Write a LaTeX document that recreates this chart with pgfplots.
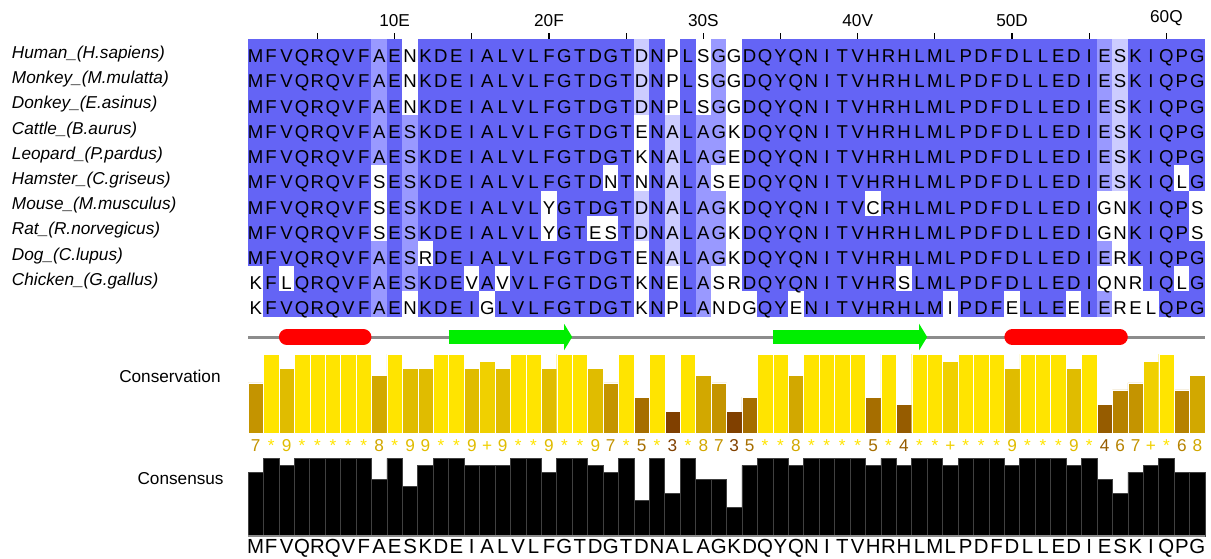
\documentclass[border=0pt]{standalone}
\usepackage{fontspec}
\setmainfont{Liberation Sans}
\usepackage{pgfplots}
\usepackage{pgfplotstable}
\pgfplotsset{compat=1.18}
\usetikzlibrary{arrows.meta}

\definecolor{pid1}{RGB}{204,204,255}
\definecolor{pid2}{RGB}{153,153,255}
\definecolor{pid3}{RGB}{100,100,245}
\definecolor{cons3}{RGB}{128,64,0}
\definecolor{cons4}{RGB}{150,92,0}
\definecolor{cons5}{RGB}{166,110,0}
\definecolor{cons6}{RGB}{182,130,0}
\definecolor{cons7}{RGB}{196,148,0}
\definecolor{cons8}{RGB}{210,168,0}
\definecolor{cons9}{RGB}{224,188,0}
\definecolor{cons10}{RGB}{240,208,0}
\definecolor{cons11}{RGB}{255,228,0}
\definecolor{helix}{RGB}{255,0,0}
\definecolor{strand}{RGB}{0,238,0}

\newcommand\seqfont{\fontsize{9.3}{10}\selectfont}
\newcommand\confont{\fontsize{10.2}{11}\selectfont}
\newcommand\namefont{\fontsize{8.6}{10}\selectfont\itshape}
\newcommand\annfont{\fontsize{8.6}{10}\selectfont}

% one row per alignment column: residues of the 11 sequences, consensus residue,
% percent-identity level of each cell, conservation score and label, consensus %
\pgfplotstableread{
p  s1 s2 s3 s4 s5 s6 s7 s8 s9 s10 s11 con l1 l2 l3 l4 l5 l6 l7 l8 l9 l10 l11 cv clab cp
1  M M M M M M M M M K K M 3 3 3 3 3 3 3 3 3 0 0 7 7 81.8
2  F F F F F F F F F F F F 3 3 3 3 3 3 3 3 3 3 3 11 * 100
3  V V V V V V V V V L V V 3 3 3 3 3 3 3 3 3 0 3 9 9 90.9
4  Q Q Q Q Q Q Q Q Q Q Q Q 3 3 3 3 3 3 3 3 3 3 3 11 * 100
5  R R R R R R R R R R R R 3 3 3 3 3 3 3 3 3 3 3 11 * 100
6  Q Q Q Q Q Q Q Q Q Q Q Q 3 3 3 3 3 3 3 3 3 3 3 11 * 100
7  V V V V V V V V V V V V 3 3 3 3 3 3 3 3 3 3 3 11 * 100
8  F F F F F F F F F F F F 3 3 3 3 3 3 3 3 3 3 3 11 * 100
9  A A A A A S S S A A A A 2 2 2 2 2 0 0 0 2 2 2 8 8 72.7
10 E E E E E E E E E E E E 3 3 3 3 3 3 3 3 3 3 3 11 * 100
11 N N N S S S S S S S N S 0 0 0 2 2 2 2 2 2 2 0 9 9 63.6
12 K K K K K K K K R K K K 3 3 3 3 3 3 3 3 0 3 3 9 9 90.9
13 D D D D D D D D D D D D 3 3 3 3 3 3 3 3 3 3 3 11 * 100
14 E E E E E E E E E E E E 3 3 3 3 3 3 3 3 3 3 3 11 * 100
15 I I I I I I I I I V I I 3 3 3 3 3 3 3 3 3 0 3 9 9 90.9
16 A A A A A A A A A A G A 3 3 3 3 3 3 3 3 3 3 0 10 + 90.9
17 L L L L L L L L L V L L 3 3 3 3 3 3 3 3 3 0 3 9 9 90.9
18 V V V V V V V V V V V V 3 3 3 3 3 3 3 3 3 3 3 11 * 100
19 L L L L L L L L L L L L 3 3 3 3 3 3 3 3 3 3 3 11 * 100
20 F F F F F F Y Y F F F F 3 3 3 3 3 3 0 0 3 3 3 9 9 81.8
21 G G G G G G G G G G G G 3 3 3 3 3 3 3 3 3 3 3 11 * 100
22 T T T T T T T T T T T T 3 3 3 3 3 3 3 3 3 3 3 11 * 100
23 D D D D D D D E D D D D 3 3 3 3 3 3 3 0 3 3 3 9 9 90.9
24 G G G G G N G S G G G G 3 3 3 3 3 0 3 0 3 3 3 7 7 81.8
25 T T T T T T T T T T T T 3 3 3 3 3 3 3 3 3 3 3 11 * 100
26 D D D E K N D D E K K D 1 1 1 0 0 0 1 1 0 0 0 5 5 45.5
27 N N N N N N N N N N N N 3 3 3 3 3 3 3 3 3 3 3 11 * 100
28 P P P A A A A A A E P A 0 0 0 1 1 1 1 1 1 0 0 3 3 54.5
29 L L L L L L L L L L L L 3 3 3 3 3 3 3 3 3 3 3 11 * 100
30 S S S A A A A A A A A A 0 0 0 2 2 2 2 2 2 2 2 8 8 72.7
31 G G G G G S G G G S N G 2 2 2 2 2 0 2 2 2 0 0 7 7 72.7
32 G G G K E E K K K R D K 0 0 0 0 0 0 0 0 0 0 0 3 3 36.4
33 D D D D D D D D D D G D 3 3 3 3 3 3 3 3 3 3 0 5 5 90.9
34 Q Q Q Q Q Q Q Q Q Q Q Q 3 3 3 3 3 3 3 3 3 3 3 11 * 100
35 Y Y Y Y Y Y Y Y Y Y Y Y 3 3 3 3 3 3 3 3 3 3 3 11 * 100
36 Q Q Q Q Q Q Q Q Q Q E Q 3 3 3 3 3 3 3 3 3 3 0 8 8 90.9
37 N N N N N N N N N N N N 3 3 3 3 3 3 3 3 3 3 3 11 * 100
38 I I I I I I I I I I I I 3 3 3 3 3 3 3 3 3 3 3 11 * 100
39 T T T T T T T T T T T T 3 3 3 3 3 3 3 3 3 3 3 11 * 100
40 V V V V V V V V V V V V 3 3 3 3 3 3 3 3 3 3 3 11 * 100
41 H H H H H H C H H H H H 3 3 3 3 3 3 0 3 3 3 3 5 5 90.9
42 R R R R R R R R R R R R 3 3 3 3 3 3 3 3 3 3 3 11 * 100
43 H H H H H H H H H S H H 3 3 3 3 3 3 3 3 3 0 3 4 4 90.9
44 L L L L L L L L L L L L 3 3 3 3 3 3 3 3 3 3 3 11 * 100
45 M M M M M M M M M M M M 3 3 3 3 3 3 3 3 3 3 3 11 * 100
46 L L L L L L L L L L I L 3 3 3 3 3 3 3 3 3 3 0 10 + 90.9
47 P P P P P P P P P P P P 3 3 3 3 3 3 3 3 3 3 3 11 * 100
48 D D D D D D D D D D D D 3 3 3 3 3 3 3 3 3 3 3 11 * 100
49 F F F F F F F F F F F F 3 3 3 3 3 3 3 3 3 3 3 11 * 100
50 D D D D D D D D D D E D 3 3 3 3 3 3 3 3 3 3 0 9 9 90.9
51 L L L L L L L L L L L L 3 3 3 3 3 3 3 3 3 3 3 11 * 100
52 L L L L L L L L L L L L 3 3 3 3 3 3 3 3 3 3 3 11 * 100
53 E E E E E E E E E E E E 3 3 3 3 3 3 3 3 3 3 3 11 * 100
54 D D D D D D D D D D E D 3 3 3 3 3 3 3 3 3 3 0 9 9 90.9
55 I I I I I I I I I I I I 3 3 3 3 3 3 3 3 3 3 3 11 * 100
56 E E E E E E G G E Q E E 2 2 2 2 2 2 0 0 2 0 2 4 4 72.7
57 S S S S S S N N R N R S 1 1 1 1 1 1 0 0 0 0 0 6 6 54.5
58 K K K K K K K K K R E K 3 3 3 3 3 3 3 3 3 0 0 7 7 81.8
59 I I I I I I I I I I L I 3 3 3 3 3 3 3 3 3 3 0 10 + 90.9
60 Q Q Q Q Q Q Q Q Q Q Q Q 3 3 3 3 3 3 3 3 3 3 3 11 * 100
61 P P P P P L P P P L P P 3 3 3 3 3 0 3 3 3 0 3 6 6 81.8
62 G G G G G G S S G G G G 3 3 3 3 3 3 0 0 3 3 3 8 8 81.8
}\aln

\pgfdeclareplotmark{cell}{%
  \pgfpathrectangle{\pgfpoint{-3.91pt}{-6.36pt}}{\pgfpoint{7.82pt}{12.72pt}}%
  \pgfusepathqfill}

\begin{document}
\begin{tikzpicture}
\path[use as bounding box] (0,0) rectangle (605.5pt,-279pt);

% alignment (the axis top holds the ruler ticks)
\begin{axis}[
  at={(124pt,-16.62pt)}, anchor=north west,
  scale only axis, width=478.5pt, height=141.73pt,
  xmin=0.5, xmax=62.5, ymin=0.5, ymax=11.74,
  clip=false,
  axis line style={draw opacity=0},
  xtick pos=upper, xticklabel pos=upper,
  ytick pos=left,
  tick align=outside, major tick length=3pt,
  xtick={5,10,...,60},
  xticklabels={,10E,,20F,,30S,,40V,,50D,,60Q},
  xticklabel style={font=\annfont, yshift=-3pt},
  xtick style={draw=none},
  ytick={2,...,11},
  yticklabels={Chicken\_(G.gallus),Dog\_(C.lupus),Rat\_(R.norvegicus),Mouse\_(M.musculus),Hamster\_(C.griseus),Leopard\_(P.pardus),Cattle\_(B.aurus),Donkey\_(E.asinus),Monkey\_(M.mulatta),Human\_(H.sapiens)},
  yticklabel style={anchor=west, xshift=-115.2pt, yshift=-1pt, inner sep=0pt, font=\namefont},
  ytick style={draw=none},
  every node near coord/.style={anchor=base, inner sep=0pt, font=\seqfont, text=black},
]
\pgfplotsinvokeforeach{1,...,11}{
  \addplot[scatter, only marks, point meta=explicit symbolic,
    scatter/classes={
      0={mark=cell, fill=white, draw=none},
      1={mark=cell, fill=pid1, draw=none},
      2={mark=cell, fill=pid2, draw=none},
      3={mark=cell, fill=pid3, draw=none}}]
    table[x=p, y expr={12-#1}, meta=l#1] {\aln};
}
\pgfplotsinvokeforeach{1,...,11}{
  \addplot[draw=none, mark=none, point meta=explicit symbolic, nodes near coords]
    table[x=p, y expr={11.57-#1}, meta=s#1] {\aln};
}
% ruler ticks above the alignment
\addplot[black, line width=0.6pt, unbounded coords=jump] coordinates {
  (5,11.5) (5,11.74) (5,nan) (10,11.5) (10,11.74) (10,nan)
  (15,11.5) (15,11.74) (15,nan) (20,11.5) (20,11.74) (20,nan)
  (25,11.5) (25,11.74) (25,nan) (30,11.5) (30,11.74) (30,nan)
  (35,11.5) (35,11.74) (35,nan) (40,11.5) (40,11.74) (40,nan)
  (45,11.5) (45,11.74) (45,nan) (50,11.5) (50,11.74) (50,nan)
  (55,11.5) (55,11.74) (55,nan) (60,11.5) (60,11.74)
};
\end{axis}

% secondary structure and conservation
\begin{axis}[
  at={(124pt,-164.45pt)}, anchor=north west,
  scale only axis, width=478.5pt, height=62.83pt,
  xmin=0.5, xmax=62.5, ymin=-3, ymax=14.5,
  hide axis, clip=false,
]
\addplot[black!45, line width=0.6pt] coordinates {(0.5,0) (62.5,0)};
\pgfplotsinvokeforeach{3,...,11}{
  \addplot[ybar, bar width=1, bar shift=0pt, fill=cons#1, draw=white, line width=0.2pt,
    restrict expr to domain={\thisrow{cv}}{#1:#1}]
    table[x=p, y=cv] {\aln};
}
\addplot[draw=none, mark=none, point meta=explicit symbolic,
  visualization depends on={\thisrow{cv}\as\cval},
  nodes near coords={\pgfmathtruncatemacro\ci{\cval}\textcolor{cons\ci}{\pgfplotspointmeta}},
  every node near coord/.style={anchor=base, inner sep=0pt, font=\annfont}]
  table[x=p, y expr=-2.56, meta=clab] {\aln};
% secondary structure
\addplot[black!45, line width=1.5pt] coordinates {(0.5,13.37) (62.5,13.37)};
\addplot[helix, line width=8pt, line cap=round] coordinates {(3.02,13.37) (7.98,13.37)};
\addplot[helix, line width=8pt, line cap=round] coordinates {(50.02,13.37) (56.98,13.37)};
\addplot[strand, line width=7.2pt, -{Triangle[length=4pt, width=13pt]}] coordinates {(13.5,13.37) (21.5,13.37)};
\addplot[strand, line width=7.2pt, -{Triangle[length=4pt, width=13pt]}] coordinates {(34.5,13.37) (44.5,13.37)};
\end{axis}

% consensus
\begin{axis}[
  at={(124pt,-229.15pt)}, anchor=north west,
  scale only axis, width=478.5pt, height=47.8pt,
  xmin=0.5, xmax=62.5, ymin=-23, ymax=100,
  hide axis, clip=false,
]
\addplot[ybar, bar width=1, bar shift=0pt, fill=black, draw=black!75, line width=0.3pt]
  table[x=p, y=cp] {\aln};
\addplot[black!45, line width=0.6pt] coordinates {(0.5,0) (62.5,0)};
\addplot[draw=none, mark=none, point meta=explicit symbolic, nodes near coords,
  every node near coord/.style={anchor=base, inner sep=0pt, font=\confont}]
  table[x=p, y expr=-22.3, meta=con] {\aln};
\end{axis}

\node[anchor=east, inner sep=0pt, font=\annfont] at (110.5pt,-188pt) {Conservation};
\node[anchor=east, inner sep=0pt, font=\annfont] at (112pt,-239.5pt) {Consensus};
\end{tikzpicture}
\end{document}
